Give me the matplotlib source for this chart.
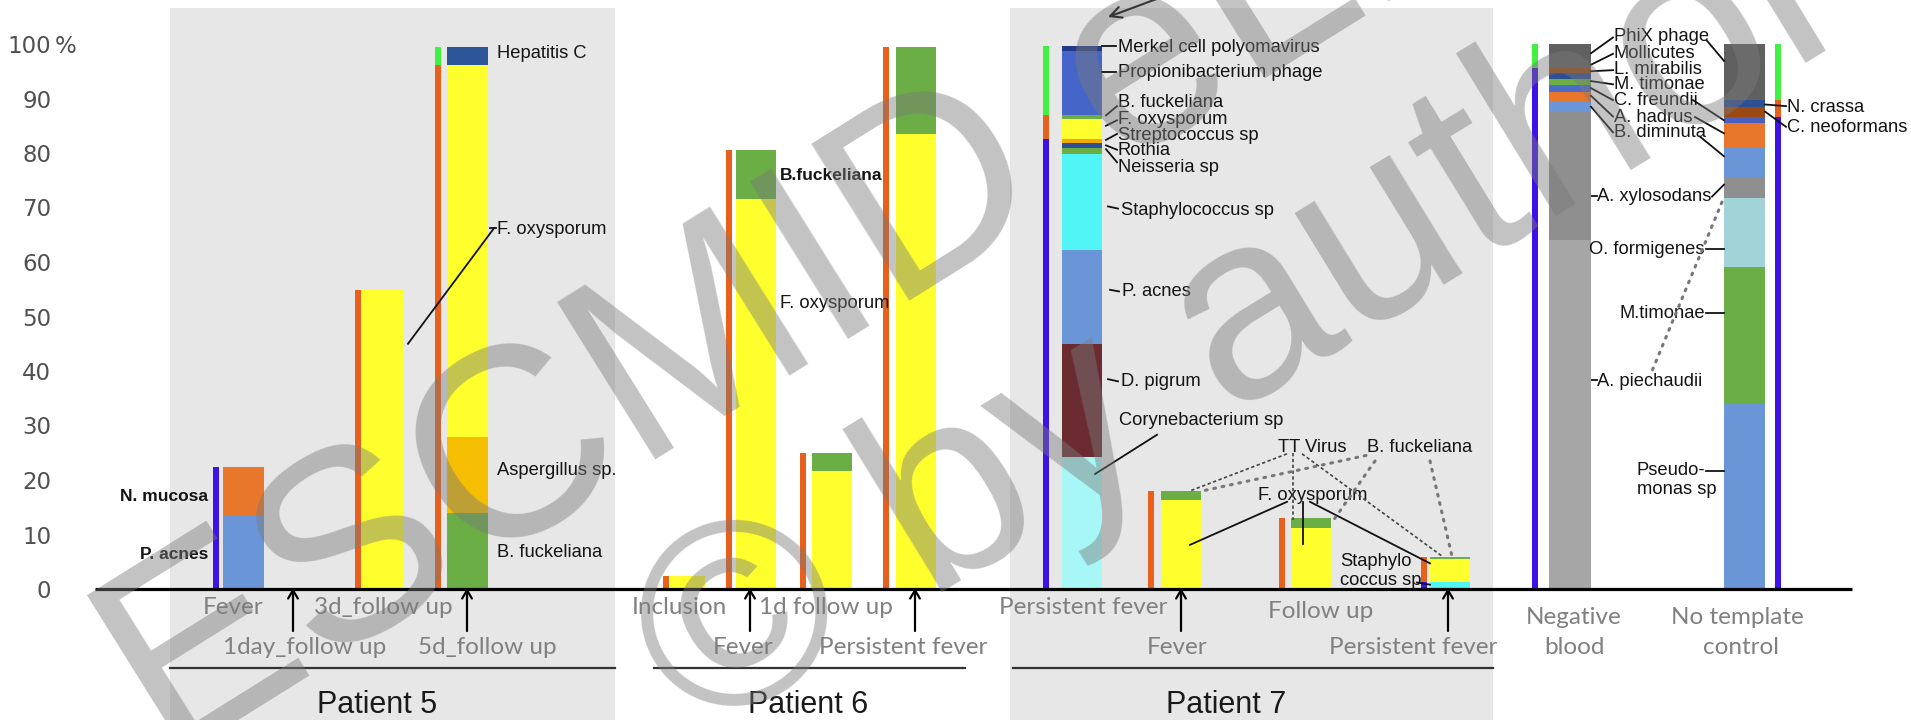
import numpy as np
import matplotlib
matplotlib.use('Agg')
import matplotlib.pyplot as plt

plt.rcParams['font.family'] = ['Liberation Sans', 'DejaVu Sans']

y_ticks = [0, 10, 20, 30, 40, 50, 60, 70, 80, 90, 100]

# composition of each sample, bottom to top (% of reads)
p5_fever_taxa = ['P. acnes', 'N. mucosa']
p5_fever_pct = [13.6, 8.8]
p5_3d_taxa = ['F. oxysporum']
p5_3d_pct = [54.8]
p5_5d_taxa = ['B. fuckeliana', 'Aspergillus sp.', 'F. oxysporum', 'Hepatitis C']
p5_5d_pct = [14.0, 13.9, 68.3, 3.2]

p6_incl_taxa = ['F. oxysporum']
p6_incl_pct = [2.4]
p6_fever_taxa = ['F. oxysporum', 'B. fuckeliana']
p6_fever_pct = [71.5, 9.0]
p6_1d_taxa = ['F. oxysporum', 'B. fuckeliana']
p6_1d_pct = [21.6, 3.3]
p6_pers_taxa = ['F. oxysporum', 'B. fuckeliana']
p6_pers_pct = [83.4, 16.0]

p7_pers_taxa = ['Corynebacterium sp', 'D. pigrum', 'P. acnes', 'Staphylococcus sp',
                'Neisseria sp', 'Rothia', 'Streptococcus sp', 'F. oxysporum',
                'B. fuckeliana', 'Propionibacterium phage', 'Merkel cell polyomavirus']
p7_pers_pct = [24.3, 20.7, 17.2, 17.6, 1.2, 0.8, 0.8, 3.6, 0.8, 11.8, 0.8]
p7_fever_taxa = ['F. oxysporum', 'B. fuckeliana']
p7_fever_pct = [16.3, 1.7]
p7_follow_taxa = ['F. oxysporum', 'B. fuckeliana']
p7_follow_pct = [11.2, 1.8]
p7_pers2_taxa = ['Staphylococcus sp', 'F. oxysporum', 'B. fuckeliana']
p7_pers2_pct = [1.3, 4.2, 0.4]

neg_blood_taxa = ['A. piechaudii', 'A. xylosodans', 'B. diminuta', 'A. hadrus', 'C. freundii',
                  'M. timonae', 'L. mirabilis', 'Mollicutes', 'PhiX phage']
neg_blood_pct = [64.0, 23.5, 1.9, 1.8, 1.3, 1.1, 1.1, 0.9, 4.4]
ntc_taxa = ['Pseudomonas sp', 'M. timonae', 'O. formigenes', 'A. xylosodans', 'B. diminuta',
            'A. hadrus', 'C. freundii', 'C. neoformans', 'N. crassa', 'PhiX phage']
ntc_pct = [33.9, 25.1, 12.8, 3.8, 5.3, 4.6, 1.1, 1.8, 1.3, 10.3]

fungi = ['F. oxysporum', 'B. fuckeliana', 'Aspergillus sp.', 'C. neoformans', 'N. crassa']
viruses = ['Hepatitis C', 'Propionibacterium phage', 'Merkel cell polyomavirus', 'PhiX phage']

# colours
BLUE, ORANGE, YELLOW, GREEN = '#6A96D8', '#E8762B', '#FFFF2E', '#6AAE45'
GOLD, NAVY, CYAN = '#F5BE00', '#2C4F95', '#52F5F5'
kingdom_colors = ['#3D12E6', '#E8601C', '#42F042']  # bacteria, fungi, virus

taxon_colors = {
    'P. acnes': BLUE, 'N. mucosa': ORANGE, 'F. oxysporum': YELLOW, 'B. fuckeliana': GREEN,
    'Aspergillus sp.': GOLD, 'Hepatitis C': '#2C5697', 'Corynebacterium sp': '#A8F7F7',
    'D. pigrum': '#6A2C31', 'Staphylococcus sp': CYAN, 'Neisseria sp': GREEN, 'Rothia': NAVY,
    'Streptococcus sp': '#F2A900', 'Propionibacterium phage': '#4565C8',
    'Merkel cell polyomavirus': '#22398A', 'Pseudomonas sp': BLUE,
}
neg_blood_colors = ['#A6A6A6', '#8F8F8F', BLUE, ORANGE, '#4A6BC8', GREEN, NAVY, '#9A4A10', '#606060']
ntc_colors = [BLUE, GREEN, '#A2D3D8', '#8F8F8F', BLUE, ORANGE, '#4A5FC0', '#9A4A10', NAVY, '#606060']


def py(p):
    # pixel row -> percent on the y axis
    return (589 - p) / 5.45


def kingdom_sums(taxa, pct):
    sums = [0.0, 0.0, 0.0]
    for t, v in zip(taxa, pct):
        k = 1 if t in fungi else 2 if t in viruses else 0
        sums[k] += v
    return sums


def stack(ax, left, width, heights, colors):
    heights = np.asarray(heights, dtype=float)
    bottoms = np.concatenate([[0], np.cumsum(heights)[:-1]])
    ax.bar([left] * len(heights), heights, width, bottom=bottoms, color=colors,
           align='edge', linewidth=0, zorder=2)


# (taxa, pct, colours, bar left, bar width, line left)
samples = [
    (p5_fever_taxa, p5_fever_pct, None, 223, 41, 213),
    (p5_3d_taxa, p5_3d_pct, None, 362, 41, 355),
    (p5_5d_taxa, p5_5d_pct, None, 447, 41, 435),
    (p6_incl_taxa, p6_incl_pct, None, 670, 35, 663),
    (p6_fever_taxa, p6_fever_pct, None, 736, 40, 726),
    (p6_1d_taxa, p6_1d_pct, None, 812, 40, 800),
    (p6_pers_taxa, p6_pers_pct, None, 896, 40, 883),
    (p7_pers_taxa, p7_pers_pct, None, 1062, 40, 1043),
    (p7_fever_taxa, p7_fever_pct, None, 1161, 40, 1148),
    (p7_follow_taxa, p7_follow_pct, None, 1291, 40, 1279),
    (p7_pers2_taxa, p7_pers2_pct, None, 1430, 40, 1421),
    (neg_blood_taxa, neg_blood_pct, neg_blood_colors, 1549, 42, 1532),
    (ntc_taxa, ntc_pct, ntc_colors, 1724, 41, 1775),
]

fig = plt.figure(figsize=(19.11, 7.2), dpi=100)
ax = fig.add_axes([72 / 1911, 0, 1 - 72 / 1911, 1])
ax.set_xlim(72, 1911)
ax.set_ylim(py(720), py(0))
for s in ax.spines.values():
    s.set_visible(False)
ax.set_xticks([])
ax.set_yticks(y_ticks)
ax.set_yticklabels([str(t) for t in y_ticks], fontfamily='DejaVu Sans', fontsize=16.5, color='#505050')
ax.tick_params(axis='y', length=0, pad=15)
ax.text(55, 100, '%', fontfamily='DejaVu Sans', fontsize=16.5, color='#505050',
        ha='left', va='center_baseline', clip_on=False)

# grey patient panels
ax.axvspan(170, 615, ymin=0, ymax=1 - 8 / 720, color='#E7E7E7', lw=0, zorder=0)
ax.axvspan(1010, 1493, ymin=0, ymax=1 - 8 / 720, color='#E7E7E7', lw=0, zorder=0)

for taxa, pct, cols, left, width, line_left in samples:
    if cols is None:
        cols = [taxon_colors[t] for t in taxa]
    stack(ax, left, width, pct, cols)
    stack(ax, line_left, 6.5, kingdom_sums(taxa, pct), kingdom_colors)

ax.plot([95, 1852], [0, 0], color='black', lw=2.3, zorder=3, solid_capstyle='butt')

# sample labels under the axis
grey = dict(fontfamily='Lato', fontsize=17.5, color='#808080', ha='center', va='center')
time_labels = [
    ('Fever', 233, 607), ('3d_follow up', 383, 607), ('1day_follow up', 305, 647),
    ('5d_follow up', 487, 647), ('Inclusion', 679, 607), ('1d follow up', 826, 607),
    ('Fever', 743, 647), ('Persistent fever', 903, 647), ('Persistent fever', 1083, 607),
    ('Follow up', 1321, 611), ('Fever', 1177, 647), ('Persistent fever', 1413, 647),
    ('Negative', 1574, 617), ('blood', 1574, 648), ('No template', 1737, 617),
    ('control', 1741, 648),
]
for s, x, p in time_labels:
    ax.text(x, py(p), s, **grey)

for x in [293, 467, 750, 915, 1181, 1448]:
    ax.annotate('', xy=(x, py(588)), xytext=(x, py(631)),
                arrowprops=dict(arrowstyle='->,head_width=0.35,head_length=0.6',
                                lw=1.6, color='black', shrinkA=0, shrinkB=0))

for x0, x1 in [(170, 615), (654, 965), (1013, 1493)]:
    ax.plot([x0, x1], [py(668), py(668)], color='#333333', lw=1.6, zorder=3)
for s, x in [('Patient 5', 377), ('Patient 6', 808), ('Patient 7', 1226)]:
    ax.text(x, py(705), s, fontsize=22, color='#1a1a1a', ha='center', va='center')

# taxon labels
lab = dict(color='#141414', va='center', zorder=4)
taxon_labels = [
    ('N. mucosa', 208, 16.9, 'right', 'bold'), ('P. acnes', 208, 6.4, 'right', 'bold'),
    ('Hepatitis C', 497, 98.2, 'left', 'normal'), ('F. oxysporum', 497, 66.0, 'left', 'normal'),
    ('Aspergillus sp.', 497, 21.8, 'left', 'normal'), ('B. fuckeliana', 497, 6.7, 'left', 'normal'),
    ('B.fuckeliana', 780, 75.8, 'left', 'bold'), ('F. oxysporum', 780, 52.3, 'left', 'normal'),
    ('Merkel cell polyomavirus', 1118, 99.3, 'left', 'normal'),
    ('Propionibacterium phage', 1118, 94.8, 'left', 'normal'),
    ('B. fuckeliana', 1118, 89.2, 'left', 'normal'), ('F. oxysporum', 1118, 86.1, 'left', 'normal'),
    ('Streptococcus sp', 1118, 83.3, 'left', 'normal'), ('Rothia', 1118, 80.5, 'left', 'normal'),
    ('Neisseria sp', 1118, 77.4, 'left', 'normal'),
    ('Staphylococcus sp', 1121, 69.5, 'left', 'normal'), ('P. acnes', 1122, 54.5, 'left', 'normal'),
    ('D. pigrum', 1121, 38.0, 'left', 'normal'), ('Corynebacterium sp', 1119, 31.0, 'left', 'normal'),
    ('TT Virus', 1278, 25.9, 'left', 'normal'), ('B. fuckeliana', 1367, 25.9, 'left', 'normal'),
    ('F. oxysporum', 1258, 17.1, 'left', 'normal'), ('Staphylo', 1340, 5.0, 'left', 'normal'),
    ('coccus sp', 1340, 1.6, 'left', 'normal'),
    ('PhiX phage', 1614, 101.4, 'left', 'normal'), ('Mollicutes', 1614, 98.3, 'left', 'normal'),
    ('L. mirabilis', 1614, 95.3, 'left', 'normal'), ('M. timonae', 1614, 92.5, 'left', 'normal'),
    ('C. freundii', 1614, 89.6, 'left', 'normal'), ('A. hadrus', 1614, 86.6, 'left', 'normal'),
    ('B. diminuta', 1614, 83.7, 'left', 'normal'), ('A. xylosodans', 1597, 72.0, 'left', 'normal'),
    ('O. formigenes', 1705, 62.3, 'right', 'normal'), ('M.timonae', 1705, 50.6, 'right', 'normal'),
    ('A. piechaudii', 1597, 38.1, 'left', 'normal'), ('Pseudo-', 1637, 21.8, 'left', 'normal'),
    ('monas sp', 1637, 18.2, 'left', 'normal'), ('N. crassa', 1787, 88.4, 'left', 'normal'),
    ('C. neoformans', 1787, 84.6, 'left', 'normal'),
]
for s, x, y, ha, w in taxon_labels:
    ax.text(x, y, s, ha=ha, fontweight=w, fontsize=12.5 if w == 'bold' else 13.2, **lab)

# leader lines
solid = [
    ((408, 45.0), (494, 66.2)), ((490, 66.2), (496, 66.2)),
    ((1102, 99.6), (1116, 99.6)), ((1102, 94.8), (1116, 94.8)),
    ((1106, 86.9), (1117, 88.6)), ((1106, 85.0), (1117, 86.0)), ((1106, 82.4), (1117, 83.5)),
    ((1106, 81.4), (1117, 80.6)), ((1106, 80.7), (1117, 78.3)),
    ((1108, 70.2), (1118, 69.8)), ((1110, 54.9), (1119, 54.6)), ((1108, 38.5), (1118, 38.1)),
    ((1095, 21.1), (1157, 28.3)),
    ((1287, 16.0), (1190, 8.1)), ((1303, 16.0), (1303, 8.3)), ((1310, 16.0), (1430, 4.7)),
    ((1417, 1.2), (1430, 0.8)),
    ((1591, 98.3), (1613, 101.2)), ((1591, 96.2), (1613, 98.2)), ((1591, 95.0), (1613, 95.2)),
    ((1591, 93.2), (1613, 92.6)), ((1591, 91.9), (1613, 89.7)), ((1591, 90.5), (1613, 86.7)),
    ((1591, 88.5), (1613, 83.8)),
    ((1707, 100.6), (1724, 96.9)), ((1693, 89.7), (1724, 86.0)), ((1695, 86.6), (1724, 83.6)),
    ((1700, 83.0), (1724, 79.4)), ((1712, 72.0), (1724, 74.2)),
    ((1592, 72.2), (1597, 72.2)), ((1592, 38.3), (1597, 38.3)),
    ((1706, 62.3), (1724, 62.3)), ((1706, 50.6), (1724, 50.6)), ((1706, 21.6), (1724, 21.6)),
    ((1765, 88.9), (1786, 88.6)), ((1765, 87.6), (1786, 84.8)),
]
for (x0, y0), (x1, y1) in solid:
    ax.plot([x0, x1], [y0, y1], color='#111111', lw=1.3, zorder=4)

dashed = [((1287, 24.8), (1190, 18.0)), ((1293, 25.0), (1293, 12.6)), ((1302, 24.8), (1443, 5.9))]
for (x0, y0), (x1, y1) in dashed:
    ax.plot([x0, x1], [y0, y1], color='#444444', lw=1.2, ls=(0, (2, 1.5)), zorder=4)

dotted = [((1366, 24.5), (1200, 17.9)), ((1375, 23.5), (1333, 12.5)), ((1430, 23.5), (1452, 6.0)),
          ((1722, 71.0), (1652, 40.0))]
for (x0, y0), (x1, y1) in dotted:
    ax.plot([x0, x1], [y0, y1], color='#777777', lw=2.2, ls=(0, (0.6, 2.2)),
            dash_capstyle='round', zorder=4)

ax.annotate('', xy=(1108, py(17)), xytext=(1162, py(-3)), annotation_clip=False,
            arrowprops=dict(arrowstyle='->,head_width=0.4,head_length=0.8', lw=1.5,
                            color='black', shrinkA=0, shrinkB=0))

# library watermark
wm = dict(color='#7A7A7A', alpha=0.45, rotation_mode='anchor',
          ha='left', va='baseline', zorder=10)
fig.text(167 / 1911, 1 - 765 / 720, 'ESCMID eLibrary', rotation=32, fontsize=194, **wm)
fig.text(699 / 1911, 1 - 741 / 720, '\u00a9 by author', rotation=31.5, fontsize=190, **wm)

fig.savefig('out.png', dpi=100)
